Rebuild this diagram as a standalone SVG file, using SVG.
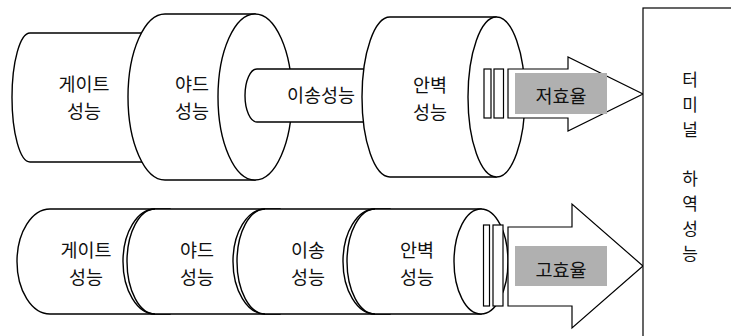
<svg xmlns="http://www.w3.org/2000/svg" width="731" height="336" viewBox="0 0 731 336">
<style>
.s{fill:#fff;stroke:#000;stroke-width:1.4}
.a{fill:#fff;stroke:#000;stroke-width:1.2}
.ln{fill:none;stroke:#000;stroke-width:1.4}
.g{fill:#b0b0b0;stroke:none}
text{font-family:"Noto Sans CJK KR","Noto Sans",sans-serif;font-size:18.5px;fill:#111;text-anchor:middle}
.t{font-size:17px}
</style>
<rect width="731" height="336" fill="#fff"/>
<!-- Top row -->
<g id="top-gate">
<path class="s" d="M30,33 H170 V162 H30 A18,64.5 0 0 1 30,33 Z"/>
<text x="84" y="91">게이트<tspan x="84" dy="27">성능</tspan></text>
</g>
<g id="top-yard">
<path class="s" d="M165,14 H255 V180 H165 A37,83 0 0 1 165,14 Z"/>
<ellipse class="s" cx="255" cy="97" rx="37" ry="83"/>
<text x="192" y="91">야드<tspan x="192" dy="27">성능</tspan></text>
</g>
<g id="top-transfer">
<path class="s" d="M257,69 H375 V122 H257 A12,26.5 0 0 1 257,69 Z"/>
<text x="321" y="102">이송성능</text>
</g>
<g id="top-berth">
<path class="s" d="M390,17 H496 V177 H390 A28,80 0 0 1 390,17 Z"/>
<ellipse class="s" cx="496.5" cy="97" rx="28.5" ry="80"/>
<text x="430" y="92">안벽<tspan x="430" dy="27">성능</tspan></text>
</g>
<g id="top-arrow">
<rect class="a" x="484" y="69" width="7" height="49"/>
<rect class="a" x="494" y="69" width="9.5" height="49"/>
<path class="a" d="M508,69 H568 V57 L643,94 L568,131 V118 H508 Z"/>
<rect class="g" x="515" y="73" width="92" height="41"/>
<text x="561" y="103">저효율</text>
</g>
<!-- Bottom row -->
<g id="bottom-gate">
<path class="s" d="M50,209 H170 V314 H50 A33,52.5 0 0 1 50,209 Z"/>
<text x="86" y="257">게이트<tspan x="86" dy="27">성능</tspan></text>
</g>
<g id="bottom-yard">
<path class="s" d="M155,209 H280 V314 H155 A32,52.5 0 0 1 155,209 Z"/>
<path class="ln" d="M155,209 A28,52.5 0 0 0 155,314"/>
<text x="197" y="257">야드<tspan x="197" dy="27">성능</tspan></text>
</g>
<g id="bottom-transfer">
<path class="s" d="M265,209 H390 V314 H265 A32,52.5 0 0 1 265,209 Z"/>
<path class="ln" d="M265,209 A28,52.5 0 0 0 265,314"/>
<text x="308" y="257">이송<tspan x="308" dy="27">성능</tspan></text>
</g>
<g id="bottom-berth">
<path class="s" d="M375,209 H481 V314 H375 A32,52.5 0 0 1 375,209 Z"/>
<path class="ln" d="M375,209 A28,52.5 0 0 0 375,314"/>
<ellipse class="s" cx="481" cy="261.5" rx="27" ry="52.5"/>
<text x="417" y="257">안벽<tspan x="417" dy="27">성능</tspan></text>
</g>
<g id="bottom-arrow">
<rect class="a" x="483.5" y="225" width="6" height="81"/>
<rect class="a" x="493" y="225" width="10" height="81"/>
<path class="a" d="M508,227 H572 V204 L643,266 L572,328 V306 H508 Z"/>
<rect class="g" x="515" y="246" width="92" height="40"/>
<text x="561" y="276.5">고효율</text>
</g>
<g id="terminal">
<rect class="a" x="643" y="8" width="200" height="400"/>
<text class="t" x="690" y="86">터<tspan x="690" dy="24.8">미</tspan><tspan x="690" dy="24.8">널</tspan><tspan x="690" dy="49.6">하</tspan><tspan x="690" dy="24.8">역</tspan><tspan x="690" dy="24.8">성</tspan><tspan x="690" dy="24.8">능</tspan></text>
</g>
<g id="connectors"></g>
</svg>
